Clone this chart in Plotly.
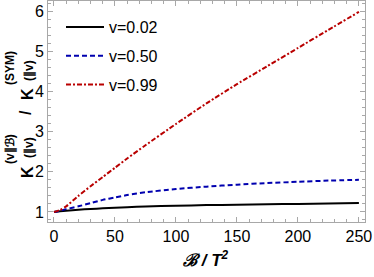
import plotly.graph_objects as go

x_vals = [0, 5, 10, 20, 30, 40, 50, 60, 75, 100, 125, 150, 175, 200, 225, 250]
v002 = [1.0, 1.015, 1.03, 1.055, 1.075, 1.09, 1.105, 1.12, 1.135, 1.155, 1.17, 1.18, 1.19, 1.20, 1.21, 1.22]
v050 = [1.0, 1.03, 1.07, 1.14, 1.22, 1.30, 1.36, 1.42, 1.49, 1.57, 1.63, 1.68, 1.72, 1.75, 1.78, 1.80]
v099 = [1.0, 1.05, 1.14, 1.40, 1.64, 1.87, 2.10, 2.33, 2.66, 3.19, 3.70, 4.18, 4.63, 5.08, 5.53, 5.98]
names = ["v=0.02", "v=0.50", "v=0.99"]
x_ticks = [0, 50, 100, 150, 200, 250]
y_ticks = [1, 2, 3, 4, 5, 6]

FONT = "Liberation Sans, Arial, sans-serif"
L, R, T, B = 48, 9, 1, 55
W, H = 374, 277
PW, PH = W - L - R, H - T - B

fig = go.Figure()
styles = [
    dict(color="black", width=2, dash="solid"),
    dict(color="rgb(0,0,175)", width=2, dash="5px,3px"),
    dict(color="rgb(185,0,0)", width=2, dash="5px,2px,2px,2px"),
]
for i, (name, ys) in enumerate(zip(names, [v002, v050, v099])):
    fig.add_trace(go.Scatter(x=x_vals, y=ys, mode="lines", name=name,
                             line=dict(shape="spline", smoothing=0.6, **styles[i]),
                             legendgroup=str(i)))

axis_common = dict(
    showgrid=False, zeroline=False, showline=True, linecolor="#a8a8a8", linewidth=1,
    mirror="ticks", ticks="inside", ticklen=5, tickcolor="#a8a8a8", tickwidth=1,
    automargin=False,
    tickfont=dict(family=FONT, size=16, color="black"),
)
fig.update_xaxes(range=[-4.9, 255], tickvals=x_ticks,
                 minor=dict(dtick=10, tick0=0, ticks="inside", ticklen=3, tickcolor="#a8a8a8"),
                 **axis_common)
fig.update_yaxes(range=[0.75, 6.25], tickvals=y_ticks,
                 minor=dict(dtick=0.2, tick0=0, ticks="inside", ticklen=3, tickcolor="#a8a8a8"),
                 **axis_common)

def ann(text, px, py, size, angle=-90):
    fig.add_annotation(text=text, xref="paper", yref="paper", x=0, y=0,
                       xshift=px - L, yshift=(H - B) - py, showarrow=False,
                       textangle=angle, xanchor="center", yanchor="middle",
                       font=dict(family=FONT, size=size, color="black"))

# y-axis title with stacked super/subscripts
ann("<b>K</b>", 27, 172, 16)
ann("<b>(v∥ℬ)</b>", 10, 149, 12)
ann("<b>(∥v)</b>", 29, 148, 12)
ann("<b>/</b>", 25, 113, 16)
ann("<b>K</b>", 27, 94, 16)
ann("<b>(SYM)</b>", 10, 68, 12)
ann("<b>(∥v)</b>", 29, 71, 12)
# x-axis title
ann("<b><i>ℬ / T<sup>2</sup></i></b>", 206, 259, 17, angle=0)

fig.update_layout(
    width=W, height=H, margin=dict(l=L, r=R, t=T, b=B),
    paper_bgcolor="white", plot_bgcolor="white",
    showlegend=True,
    legend=dict(x=(61 - L) / PW, y=(H - B - 10) / PH, xanchor="left", yanchor="top",
                bgcolor="rgba(0,0,0,0)", borderwidth=0, itemwidth=38,
                tracegroupgap=5, font=dict(family=FONT, size=16, color="black")),
)
fig.write_html("out.html", config={"displayModeBar": False},
               post_script="document.body.style.margin='0';document.body.style.overflow='hidden';")
